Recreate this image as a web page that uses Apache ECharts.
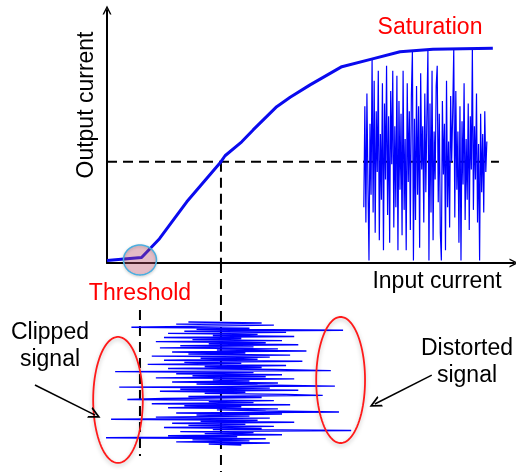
<!DOCTYPE html>
<html><head><meta charset="utf-8">
<script src="https://cdn.jsdelivr.net/npm/echarts@6/dist/echarts.min.js"></script>
<style>html,body{margin:0;padding:0;background:#fff}#c{width:516px;height:472px}</style>
</head><body><div id="c"></div>
<script>
// Transfer curve (input current -> output current), arbitrary units 0..100
const curveX = [0, 4.2, 8.5, 12.9, 19.6, 27.8, 29.0, 33.1, 35.9, 41.7, 45.0, 49.9, 57.7, 65.0, 72.0, 80.1, 94.8];
const curveY = [1, 1.6, 2.2, 9.6, 24.2, 39.6, 42.4, 47.9, 52.6, 61.8, 65.5, 70.4, 77.6, 80.6, 83.5, 84.5, 84.9];
// Operating point and threshold
const opPoint = [28, 40];
const opLineEndX = 96.3;
const thresholdX = 8.1;
// Input signal (input current per sample, sample index runs downward)
const inputSignal = [20,38,17,41,24,6,35,22,58,19,44,15,37,26,46,14,33,21,43,12,39,25,47,18,36,13,42,27,49,16,
  34,20,45,11,40,23,37,14,48,19,33,10,44,24,38,15,41,55,2,36,17,43,21,39,12,46,26,35,16,42,
  22,37,56,3,40,18,47,13,34,24,44,53,20,38,14,5,41,25,36,11,45,19,33,15,42,27,39,57,17,43,
  22,35,12,40,1,37,23,46,16,34,20,41,14,38,26,60,18,36,24,43,15,32,-2,39,21,35,17,40,25,33];
// Output signal (output current per sample, sample index runs rightward)
const outputSignal = [22,62,16,67,31,1,55,27,81,20,72,12,60,36,76,9,51,25,71,5,63,33,78,19,58,8,68,39,76,14,
  54,22,74,5,64,29,59,11,76,21,49,5,71,32,60,13,66,84,1,57,17,70,27,62,6,75,37,54,16,67,
  28,58,84.5,1,63,20,76,9,52,33,70,78,24,59,12,1,64,35,55,5,72,22,48,14,66,40,60,84.7,18,68,
  29,52,8,62,1,56,31,71,17,49,25,63,13,58,37,84.8,21,54,33,67,16,47,1,59,28,51,20,60,36,48];
const outputStartX = 63.1, outputStepX = 0.254;
// Sample-index window of the lower panel
const timeMin = -57.1, timeMax = 145.1;
const thresholdSpan = [-11.6, 129.6];
// Annotation ellipses [centre x, centre t, radius x, radius t]
const ellipses = [[2.7, 75.4, 6.1, 61], [57.4, 56.1, 6.0, 61]];
const thresholdMark = [8.1, 1.2, 4.05, 5.9];
const arrows = [[[-17.7, 60.9], [-2.9, 90.0]], [[79.8, 51.3], [65.8, 79.3]]];

const FONT = '"Liberation Sans", Arial, sans-serif';
const chevron = 'path://M5 0 L10 10 L8.3 10 L5 3.2 L1.7 10 L0 10 Z';

function ellipseItem(params, api, style) {
  const c = api.coord([api.value(0), api.value(1)]);
  const s = api.size([api.value(2), api.value(3)]);
  const pts = [];
  for (let k = 0; k < 90; k++) {
    const a = k / 90 * Math.PI * 2;
    pts.push([c[0] + s[0] * Math.cos(a), c[1] + s[1] * Math.sin(a)]);
  }
  return { type: 'polygon', shape: { points: pts }, style: style };
}

const chart = echarts.init(document.getElementById('c'), null, { renderer: 'canvas' });
const hidden = { show: false };
chart.setOption({
  animation: false,
  grid: [
    { left: 107, right: 2, top: 10, bottom: 209 },
    { left: 107, right: 2, top: 263, bottom: 0 }
  ],
  xAxis: [
    { type: 'value', gridIndex: 0, min: 0, max: 100,
      axisLine: { show: true, lineStyle: { color: '#000', width: 2 }, symbol: ['none', chevron], symbolSize: [13, 9] },
      axisTick: hidden, axisLabel: hidden, splitLine: hidden },
    { type: 'value', gridIndex: 1, min: 0, max: 100, show: false }
  ],
  yAxis: [
    { type: 'value', gridIndex: 0, min: 0, max: 100,
      axisLine: { show: true, lineStyle: { color: '#000', width: 2 }, symbol: ['none', chevron], symbolSize: [13, 9] },
      axisTick: hidden, axisLabel: hidden, splitLine: hidden },
    { type: 'value', gridIndex: 1, min: timeMin, max: timeMax, inverse: true, show: false }
  ],
  series: [
    { type: 'line', xAxisIndex: 0, yAxisIndex: 0, symbol: 'none', clip: false, z: 1,
      lineStyle: { color: '#000', width: 2, type: [10, 6] },
      data: [[0, opPoint[1]], [opLineEndX, opPoint[1]]] },
    { type: 'line', xAxisIndex: 0, yAxisIndex: 0, symbol: 'none', clip: false, z: 1,
      lineStyle: { color: '#000', width: 2, type: [10, 6] },
      data: [[opPoint[0], opPoint[1]], [opPoint[0], 0]] },
    { type: 'line', xAxisIndex: 1, yAxisIndex: 1, symbol: 'none', clip: false, z: 1,
      lineStyle: { color: '#000', width: 2, type: [10, 6] },
      data: [[opPoint[0], timeMin], [opPoint[0], timeMax]] },
    { type: 'line', xAxisIndex: 1, yAxisIndex: 1, symbol: 'none', clip: false, z: 1,
      lineStyle: { color: '#000', width: 2, type: [10, 6] },
      data: [[thresholdX, thresholdSpan[0]], [thresholdX, thresholdSpan[1]]] },
    { type: 'line', xAxisIndex: 0, yAxisIndex: 0, symbol: 'none', z: 3,
      lineStyle: { color: '#0000ff', width: 1.2 },
      data: outputSignal.map((v, i) => [outputStartX + i * outputStepX, v]) },
    { type: 'line', xAxisIndex: 0, yAxisIndex: 0, symbol: 'none', z: 4,
      lineStyle: { color: '#0a0aee', width: 3 },
      data: curveX.map((x, i) => [x, curveY[i]]) },
    { type: 'line', xAxisIndex: 1, yAxisIndex: 1, symbol: 'none', clip: false, z: 3,
      lineStyle: { color: '#0000ff', width: 1.4 },
      data: inputSignal.map((v, i) => [v, i]) },
    { type: 'custom', xAxisIndex: 0, yAxisIndex: 0, z: 6, clip: false,
      renderItem: (p, api) => ellipseItem(p, api, { fill: 'rgba(215,90,120,0.32)', stroke: '#4aaee0', lineWidth: 1.5,
        shadowBlur: 3, shadowColor: 'rgba(0,0,0,0.25)', shadowOffsetY: 1 }),
      data: [thresholdMark] },
    { type: 'custom', xAxisIndex: 1, yAxisIndex: 1, z: 6, clip: false,
      renderItem: (p, api) => ellipseItem(p, api, { fill: 'none', stroke: '#ff1a1a', lineWidth: 1.8,
        shadowBlur: 4, shadowColor: 'rgba(0,0,0,0.25)', shadowOffsetY: 2 }),
      data: ellipses },
    { type: 'lines', coordinateSystem: 'cartesian2d', xAxisIndex: 1, yAxisIndex: 1, z: 7, clip: false,
      symbol: ['none', chevron], symbolSize: 12,
      lineStyle: { color: '#000', width: 1.5, opacity: 1, curveness: 0 },
      data: arrows.map(c => ({ coords: c })) }
  ],
  graphic: [
    { type: 'text', x: 430, y: 28, z: 10,
      style: { text: 'Saturation', fill: '#ff0000', font: '23px ' + FONT, textAlign: 'center', textVerticalAlign: 'middle' } },
    { type: 'text', x: 87, y: 105, rotation: Math.PI / 2, z: 10,
      style: { text: 'Output current', fill: '#000', font: '23px ' + FONT, textAlign: 'center', textVerticalAlign: 'middle' } },
    { type: 'text', x: 437, y: 282, z: 10,
      style: { text: 'Input current', fill: '#000', font: '23px ' + FONT, textAlign: 'center', textVerticalAlign: 'middle' } },
    { type: 'text', x: 140, y: 294, z: 10,
      style: { text: 'Threshold', fill: '#ff0000', font: '23px ' + FONT, textAlign: 'center', textVerticalAlign: 'middle' } },
    { type: 'text', x: 50, y: 346, z: 10,
      style: { text: 'Clipped\nsignal', fill: '#000', font: '23px ' + FONT, lineHeight: 27, textAlign: 'center', textVerticalAlign: 'middle' } },
    { type: 'text', x: 467, y: 362, z: 10,
      style: { text: 'Distorted\nsignal', fill: '#000', font: '23px ' + FONT, lineHeight: 27, textAlign: 'center', textVerticalAlign: 'middle' } }
  ]
});
</script>
</body></html>
